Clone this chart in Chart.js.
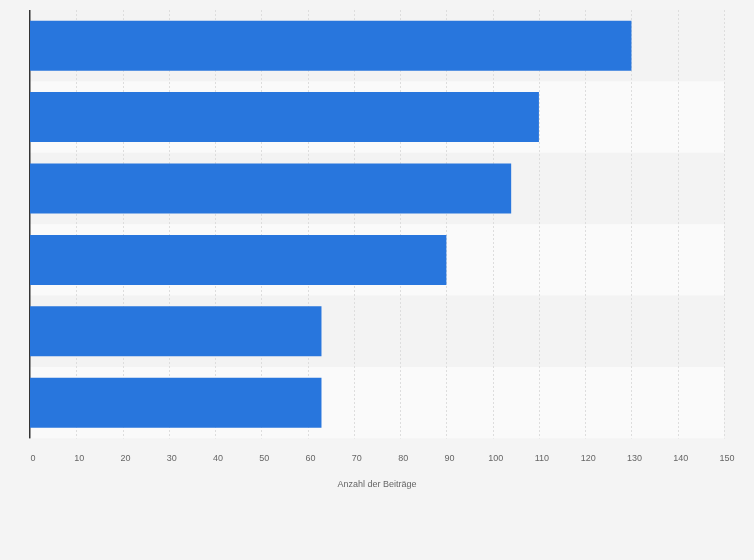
<!DOCTYPE html>
<html><head><meta charset="utf-8">
<script src="https://cdn.jsdelivr.net/npm/chart.js@4"></script>
<style>html,body{margin:0;background:#f4f4f4}#w{width:754px;height:560px}</style>
</head><body><div id="w"><canvas id="c"></canvas></div>
<script>
const categories = ["1","2","3","4","5","6"];
const values = [130, 110, 104, 90, 63, 63];
const ticks = [0,10,20,30,40,50,60,70,80,90,100,110,120,130,140,150];

const bands = {
  id:'bands',
  beforeDatasetsDraw(ch){
    const {ctx, chartArea:a, scales:{y}} = ch;
    const n = categories.length, h = (a.bottom-a.top)/n;
    for(let i=0;i<n;i++){
      ctx.fillStyle = i%2 ? '#fafafa' : '#f3f3f3';
      ctx.fillRect(a.left, y.getPixelForValue(i)-h/2, a.right-a.left, h);
    }
    ctx.save();
    ctx.strokeStyle='#dddddd'; ctx.setLineDash([2,2]); ctx.lineWidth=1;
    const x = ch.scales.x;
    ticks.forEach(t=>{ if(t===0) return; const px=Math.round(x.getPixelForValue(t))+0.5;
      ctx.beginPath(); ctx.moveTo(px,a.top); ctx.lineTo(px,a.bottom); ctx.stroke();});
    ctx.restore();
    ctx.fillStyle='#333'; ctx.fillRect(a.left-1, a.top, 1.5, a.bottom-a.top);
  }
};

new Chart(document.getElementById('c'), {
  type:'bar',
  data:{labels:categories, datasets:[{data:values, backgroundColor:'#2876dd', barPercentage:1, categoryPercentage:0.7}]},
  options:{
    indexAxis:'y', responsive:true, maintainAspectRatio:false, animation:false,
    layout:{padding:{left:30, right:30, top:10, bottom:66}},
    plugins:{legend:{display:false}, tooltip:{enabled:false}},
    scales:{
      x:{min:0,max:150, afterBuildTicks(s){s.ticks=ticks.map(v=>({value:v}));},
        grid:{display:false}, border:{display:false},
        ticks:{color:'#666', font:{family:'Liberation Sans', size:9}, padding:7, labelOffset:3},
        title:{display:true, text:'Anzahl der Beiträge', color:'#666', font:{family:'Liberation Sans', size:9}, padding:{top:8}}},
      y:{grid:{display:false}, border:{display:false}, ticks:{display:false}, afterFit(s){s.width=0;}}
    }
  },
  plugins:[bands]
});
</script></body></html>
